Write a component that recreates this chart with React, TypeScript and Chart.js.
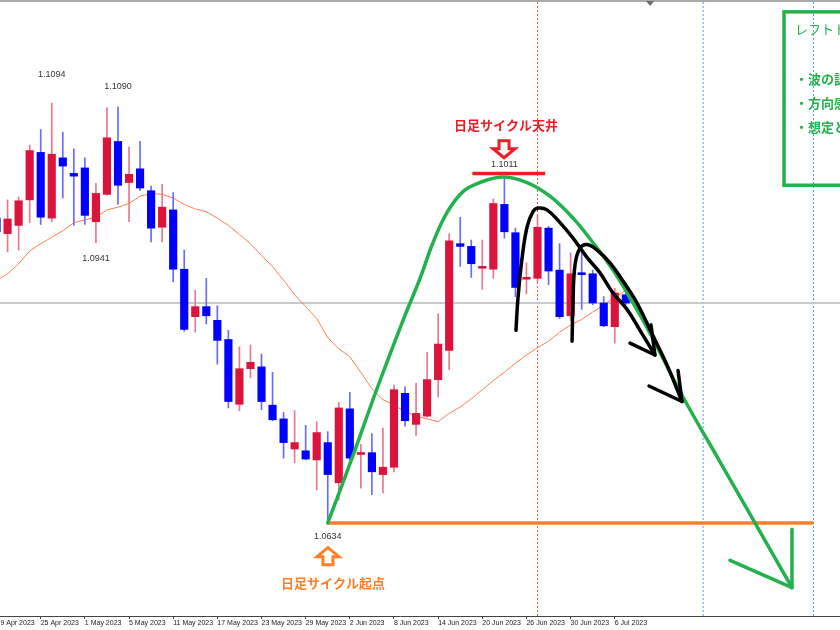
import React, { useEffect, useRef } from 'react';
import { Chart, registerables } from 'chart.js';

Chart.register(...registerables);

// ---------- data ----------
const DATES = [
  '19 Apr 2023', '20 Apr 2023', '21 Apr 2023', '24 Apr 2023', '25 Apr 2023', '26 Apr 2023', '27 Apr 2023', '28 Apr 2023',
  '1 May 2023', '2 May 2023', '3 May 2023', '4 May 2023', '5 May 2023', '8 May 2023', '9 May 2023', '10 May 2023',
  '11 May 2023', '12 May 2023', '15 May 2023', '16 May 2023', '17 May 2023', '18 May 2023', '19 May 2023', '22 May 2023',
  '23 May 2023', '24 May 2023', '25 May 2023', '26 May 2023', '29 May 2023', '30 May 2023', '31 May 2023',
  '1 Jun 2023', '2 Jun 2023', '5 Jun 2023', '6 Jun 2023', '7 Jun 2023', '8 Jun 2023', '9 Jun 2023', '12 Jun 2023',
  '13 Jun 2023', '14 Jun 2023', '15 Jun 2023', '16 Jun 2023', '19 Jun 2023', '20 Jun 2023', '21 Jun 2023', '22 Jun 2023',
  '23 Jun 2023', '26 Jun 2023', '27 Jun 2023', '28 Jun 2023', '29 Jun 2023', '30 Jun 2023',
  '3 Jul 2023', '4 Jul 2023', '5 Jul 2023', '6 Jul 2023', '7 Jul 2023',
];
const TICK_IDX = [0, 4, 8, 12, 16, 20, 24, 28, 32, 36, 40, 44, 48, 52, 56];

const OPEN = [
  1.0968, 1.0951, 1.0960, 1.0988, 1.1040, 1.0968, 1.1034, 1.1017, 1.1023, 1.0964,
  1.0994, 1.1052, 1.1007, 1.1022, 1.0998, 1.0958, 1.0977, 1.0912, 1.0860, 1.0871,
  1.0856, 1.0835, 1.0764, 1.0803, 1.0805, 1.0763, 1.0748, 1.0715, 1.0713, 1.0703,
  1.0722, 1.0678, 1.0759, 1.0709, 1.0711, 1.0687, 1.0695, 1.0776, 1.0742, 1.0751,
  1.0791, 1.0823, 1.0940, 1.0937, 1.0913, 1.0912, 1.0983, 1.0952, 1.0901, 1.0902,
  1.0957, 1.0911, 1.0861, 1.0908, 1.0907, 1.0875, 1.0849, 1.0884,
];
const HIGH = [
  1.0972, 1.0988, 1.0991, 1.1048, 1.1065, 1.1094, 1.1062, 1.1044, 1.1034, 1.1006,
  1.1089, 1.1090, 1.1046, 1.1052, 1.1003, 1.1005, 1.0996, 1.0933, 1.0889, 1.0902,
  1.0872, 1.0845, 1.0827, 1.0829, 1.0819, 1.0799, 1.0755, 1.0757, 1.0741, 1.0745,
  1.0734, 1.0766, 1.0777, 1.0720, 1.0732, 1.0738, 1.0785, 1.0783, 1.0787, 1.0821,
  1.0863, 1.0951, 1.0969, 1.0944, 1.0944, 1.0989, 1.1011, 1.0957, 1.0919, 1.0971,
  1.0959, 1.0940, 1.0930, 1.0930, 1.0911, 1.0882, 1.0891, 1.0897,
];
const LOW = [
  1.0948, 1.0931, 1.0933, 1.0963, 1.0961, 1.0964, 1.0990, 1.0960, 1.0961, 1.0941,
  1.0993, 1.0983, 1.0964, 1.0998, 1.0942, 1.0942, 1.0898, 1.0844, 1.0843, 1.0852,
  1.0808, 1.0760, 1.0757, 1.0793, 1.0758, 1.0746, 1.0705, 1.0700, 1.0703, 1.0670,
  1.0634, 1.0659, 1.0703, 1.0672, 1.0665, 1.0667, 1.0690, 1.0740, 1.0730, 1.0750,
  1.0772, 1.0802, 1.0915, 1.0903, 1.0890, 1.0902, 1.0946, 1.0882, 1.0885, 1.0897,
  1.0895, 1.0858, 1.0856, 1.0868, 1.0873, 1.0849, 1.0831, 1.0873,
];
const CLOSE = [
  1.0953, 1.0967, 1.0987, 1.1042, 1.0969, 1.1038, 1.1025, 1.1014, 1.0971, 1.0995,
  1.1056, 1.1004, 1.1016, 1.1001, 1.0957, 1.0980, 1.0912, 1.0846, 1.0871, 1.0861,
  1.0834, 1.0767, 1.0803, 1.0810, 1.0767, 1.0747, 1.0722, 1.0722, 1.0704, 1.0733,
  1.0687, 1.0760, 1.0705, 1.0710, 1.0690, 1.0695, 1.0780, 1.0746, 1.0754, 1.0791,
  1.0830, 1.0943, 1.0937, 1.0918, 1.0914, 1.0984, 1.0953, 1.0892, 1.0903, 1.0958,
  1.0910, 1.0860, 1.0907, 1.0906, 1.0875, 1.0850, 1.0886, 1.0875,
];
const MA = [
  1.0900, 1.0907, 1.0918, 1.0932, 1.0940, 1.0947, 1.0954, 1.0963, 1.0966, 1.0969,
  1.0977, 1.0980, 1.0984, 1.0992, 1.0995, 1.0994, 1.0990, 1.0983, 1.0978, 1.0975,
  1.0968, 1.0960, 1.0950, 1.0940, 1.0927, 1.0915, 1.0900, 1.0884, 1.0871, 1.0858,
  1.0837, 1.0825, 1.0816, 1.0799, 1.0781, 1.0769, 1.0763, 1.0756, 1.0751, 1.0748,
  1.0745, 1.0754, 1.0761, 1.0770, 1.0780, 1.0790, 1.0799, 1.0809, 1.0818, 1.0826,
  1.0833, 1.0843, 1.0851, 1.0857, 1.0865, 1.0873, 1.0881, 1.0889,
];

// swing labels (candle index, high/low, label position price)
const MARK_IDX = [5, 11, 9, 46, 30];
const MARK_KIND = ['H', 'H', 'L', 'H', 'L'];
const MARK_AT = [1.1125, 1.1112, 1.0924, 1.1027, 1.0619];

// hand drawn annotations (index, price)
const GREEN_X = [30.0, 32.2, 34.46, 36.82, 38.36, 39.53, 40.8, 42.25, 43.79, 45.87, 48.05, 50.13, 52.22, 54.03, 55.84, 57.65, 59.19, 62.18, 65.53, 68.7, 72.05];
const GREEN_Y = [1.0634, 1.0705, 1.0781, 1.0856, 1.0902, 1.0941, 1.0974, 1.0997, 1.1007, 1.1013, 1.1007, 1.0992, 1.0968, 1.0941, 1.0911, 1.0875, 1.0842, 1.0772, 1.0701, 1.0634, 1.0563];
const GREEN_HEAD_X = [72.05, 72.05, null, 66.44, 72.05];
const GREEN_HEAD_Y = [1.0627, 1.0563, null, 1.0593, 1.0563];

const BLACK1_X = [47.05, 47.23, 47.6, 48.05, 48.59, 49.05, 49.86, 51.04, 52.22, 53.48, 54.66, 55.84, 57.11, 58.28, 59.64];
const BLACK1_Y = [1.0845, 1.088, 1.0924, 1.0958, 1.0975, 1.0979, 1.0977, 1.0963, 1.0946, 1.0925, 1.0908, 1.0886, 1.0868, 1.0845, 1.0818];
const BLACK1_HEAD_X = [57.38, 59.64, null, 59.28, 59.64];
const BLACK1_HEAD_Y = [1.0831, 1.0818, null, 1.0851, 1.0818];

const BLACK2_X = [52.13, 52.22, 52.4, 52.85, 53.48, 54.39, 55.57, 56.74, 58.01, 59.46, 60.73, 62.09];
const BLACK2_Y = [1.0833, 1.0878, 1.0917, 1.0935, 1.0939, 1.0933, 1.0919, 1.0899, 1.0875, 1.0839, 1.0807, 1.0767];
const BLACK2_HEAD_X = [59.1, 62.09, null, 61.73, 62.09];
const BLACK2_HEAD_Y = [1.0784, 1.0767, null, 1.0801, 1.0767];

const SUPPORT_X = [30, 74];
const TOP_LINE_X = [43.1, 49.7];
const TOP_LINE_PRICE = 1.1017;
const RED_VLINES = [49];
const BLUE_VLINES = [64, 74];
const SHIFT_IDX = 59.2;

const TOP_TEXT = '日足サイクル天井';
const TOP_TEXT_AT = [46.15, 1.107];
const TOP_ARROW_AT = [45.97, 1.1044];
const LOW_TEXT = '日足サイクル起点';
const LOW_TEXT_AT = [30.48, 1.0568];
const LOW_ARROW_AT = [30.02, 1.0597];
const BOX_FROM = [71.33, 1.1194];
const BOX_TO = [82, 1.1004];
const BOX_TITLE = 'レフトトランスレーション';
const BOX_LINES = ['・波の認識', '・方向感', '・想定と'];

const X_MIN = -3.31;
const X_MAX = 76.4;
const Y_MIN = 1.0532;
const Y_MAX = 1.1207;

const UP = '#DC143C';
const DOWN = '#0000FF';
const UP_WICK = '#e8788c';
const DOWN_WICK = '#6a6aff';
const GREEN = '#22B14C';
const RED = '#EE1C25';
const ORANGE = '#FF7F27';

const pts = (xs: (number | null)[], ys: (number | null)[]) =>
  xs.map((x, k) => ({ x: x as any, y: ys[k] as any }));

const lineDs = (data: any[], color: string, width: number, order: number, extra: any = {}) => ({
  type: 'line',
  data,
  borderColor: color,
  borderWidth: width,
  pointRadius: 0,
  fill: false,
  order,
  spanGaps: false,
  borderCapStyle: 'round',
  borderJoinStyle: 'round',
  ...extra,
});

function hollowArrow(ctx: CanvasRenderingContext2D, cx: number, cy: number, dir: number, color: string) {
  // dir = 1 pointing down, -1 pointing up
  const p = [[-5, -8], [5, -8], [5, 0], [11, 0], [0, 9], [-11, 0], [-5, 0]];
  ctx.beginPath();
  p.forEach(([dx, dy], k) => {
    const X = cx + dx;
    const Y = cy + dy * dir;
    if (k === 0) ctx.moveTo(X, Y);
    else ctx.lineTo(X, Y);
  });
  ctx.closePath();
  ctx.strokeStyle = color;
  ctx.lineWidth = 3;
  ctx.lineJoin = 'miter';
  ctx.stroke();
}

const overlay = {
  id: 'overlay',
  afterDatasetsDraw(chart: any) {
    const { ctx } = chart;
    const xs = chart.scales.x;
    const ys = chart.scales.y;
    const px = (v: number) => xs.getPixelForValue(v);
    const py = (v: number) => ys.getPixelForValue(v);
    ctx.save();

    // window top border and chart-shift marker
    ctx.fillStyle = '#a9a9a9';
    ctx.fillRect(0, 0, chart.width, 2);
    const sx = px(SHIFT_IDX);
    ctx.fillStyle = '#6c6c6c';
    ctx.beginPath();
    ctx.moveTo(sx - 4, 1);
    ctx.lineTo(sx + 4, 1);
    ctx.lineTo(sx, 6);
    ctx.closePath();
    ctx.fill();

    // swing value labels
    ctx.font = '9px "Liberation Sans", Arial, sans-serif';
    ctx.fillStyle = '#333';
    ctx.textAlign = 'center';
    ctx.textBaseline = 'middle';
    MARK_IDX.forEach((i, k) => {
      const v = MARK_KIND[k] === 'H' ? HIGH[i] : LOW[i];
      ctx.fillText(v.toFixed(4), px(i), py(MARK_AT[k]));
    });

    // top / bottom texts + arrows
    ctx.font = 'bold 13px "Noto Sans CJK JP", sans-serif';
    ctx.fillStyle = RED;
    ctx.fillText(TOP_TEXT, px(TOP_TEXT_AT[0]), py(TOP_TEXT_AT[1]));
    hollowArrow(ctx, px(TOP_ARROW_AT[0]), py(TOP_ARROW_AT[1]), 1, RED);
    ctx.fillStyle = ORANGE;
    ctx.fillText(LOW_TEXT, px(LOW_TEXT_AT[0]), py(LOW_TEXT_AT[1]));
    hollowArrow(ctx, px(LOW_ARROW_AT[0]), py(LOW_ARROW_AT[1]), -1, ORANGE);

    // note box
    const bx = px(BOX_FROM[0]);
    const by = py(BOX_FROM[1]);
    const bw = px(BOX_TO[0]) - bx;
    const bh = py(BOX_TO[1]) - by;
    ctx.strokeStyle = GREEN;
    ctx.lineWidth = 3.5;
    ctx.strokeRect(bx, by, bw, bh);
    ctx.fillStyle = GREEN;
    ctx.textAlign = 'left';
    ctx.font = '13px "Noto Sans CJK JP", sans-serif';
    ctx.fillText(BOX_TITLE, bx + 11, by + 17);
    ctx.font = 'bold 13px "Noto Sans CJK JP", sans-serif';
    BOX_LINES.forEach((t, k) => ctx.fillText(t, bx + 11, by + 67 + k * 24));

    ctx.restore();
  },
};

export default function App() {
  const ref = useRef<HTMLCanvasElement | null>(null);

  useEffect(() => {
    if (!ref.current) return;
    const idx = OPEN.map((_, i) => i);
    const isUp = (i: number) => CLOSE[i] >= OPEN[i];

    const datasets: any[] = [
      ...RED_VLINES.map((v) =>
        lineDs([{ x: v, y: Y_MIN }, { x: v, y: Y_MAX }], '#ff4a4a', 1, 30, { borderDash: [2, 2], borderCapStyle: 'butt' })
      ),
      ...BLUE_VLINES.map((v) =>
        lineDs([{ x: v, y: Y_MIN }, { x: v, y: Y_MAX }], '#4a96ff', 1, 30, { borderDash: [2, 2], borderCapStyle: 'butt' })
      ),
      lineDs([{ x: X_MIN, y: CLOSE[CLOSE.length - 1] }, { x: X_MAX, y: CLOSE[CLOSE.length - 1] }], '#c6cacd', 2, 29, { borderCapStyle: 'butt' }),
      lineDs(idx.map((i) => ({ x: i, y: MA[i] })), '#FF7F50', 1, 25),
      {
        type: 'bar',
        data: idx.map((i) => ({ x: i, y: [LOW[i], HIGH[i]] })),
        backgroundColor: idx.map((i) => (isUp(i) ? UP_WICK : DOWN_WICK)),
        barThickness: 1,
        grouped: false,
        borderWidth: 0,
        order: 21,
      },
      {
        type: 'bar',
        data: idx.map((i) => ({ x: i, y: [Math.min(OPEN[i], CLOSE[i]), Math.max(OPEN[i], CLOSE[i])] })),
        backgroundColor: idx.map((i) => (isUp(i) ? UP : DOWN)),
        barThickness: 7.5,
        grouped: false,
        borderWidth: 0,
        minBarLength: 2,
        order: 20,
      },
      lineDs(pts(SUPPORT_X, [LOW[30], LOW[30]]), ORANGE, 3.5, 10, { borderCapStyle: 'butt' }),
      lineDs(pts(TOP_LINE_X, [TOP_LINE_PRICE, TOP_LINE_PRICE]), RED, 3.5, 10, { borderCapStyle: 'butt' }),
      lineDs(pts(GREEN_X, GREEN_Y), GREEN, 3.5, 8, { tension: 0.4 }),
      lineDs(pts(GREEN_HEAD_X, GREEN_HEAD_Y), GREEN, 3.5, 8),
      lineDs(pts(BLACK1_X, BLACK1_Y), '#000', 3.5, 5, { tension: 0.4 }),
      lineDs(pts(BLACK1_HEAD_X, BLACK1_HEAD_Y), '#000', 3.5, 5),
      lineDs(pts(BLACK2_X, BLACK2_Y), '#000', 3.5, 5, { tension: 0.4 }),
      lineDs(pts(BLACK2_HEAD_X, BLACK2_HEAD_Y), '#000', 3.5, 5),
    ];

    const chart = new Chart(ref.current, {
      type: 'bar',
      data: { datasets },
      options: {
        responsive: false,
        animation: false,
        devicePixelRatio: 1,
        events: [],
        layout: { padding: 0, autoPadding: false },
        plugins: { legend: { display: false }, tooltip: { enabled: false }, title: { display: false } },
        scales: {
          x: {
            type: 'linear',
            min: X_MIN,
            max: X_MAX,
            offset: false,
            afterBuildTicks: (s: any) => {
              s.ticks = TICK_IDX.map((v) => ({ value: v }));
            },
            afterFit: (s: any) => {
              s.height = 14;
            },
            ticks: {
              autoSkip: false,
              maxRotation: 0,
              minRotation: 0,
              align: 'start',
              padding: 0,
              color: '#222',
              font: { family: '"Liberation Sans", Arial, sans-serif', size: 7 },
              callback: (v: any) => DATES[v] ?? '',
            },
            grid: { drawOnChartArea: false, drawTicks: true, tickLength: 3, color: '#444', offset: false },
            border: { display: true, color: '#444' },
          },
          y: { type: 'linear', display: false, min: Y_MIN, max: Y_MAX },
        },
      } as any,
      plugins: [overlay],
    } as any);
    return () => chart.destroy();
  }, []);

  return (
    <div style={{ position: 'fixed', left: 0, top: 0, width: 840, height: 630, overflow: 'hidden', background: '#fff' }}>
      <canvas ref={ref} width={880} height={630} style={{ position: 'absolute', left: -40, top: 0, width: 880, height: 630 }} />
    </div>
  );
}
